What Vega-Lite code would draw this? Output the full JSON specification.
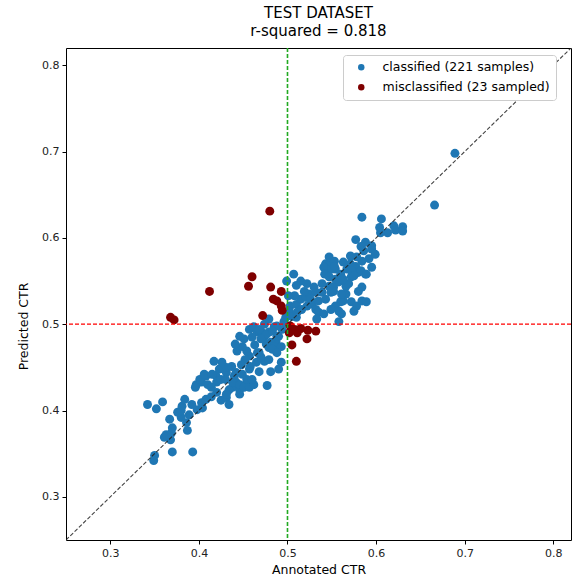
{
"$schema": "https://vega.github.io/schema/vega-lite/v6.json",
"width": 505, "height": 492,
"autosize": {"type": "none"},
"padding": {"left": 66, "top": 48, "right": 2, "bottom": 39},
"background": "white",
"title": {"text": ["TEST DATASET", "r-squared = 0.818"], "font": "DejaVu Sans", "fontSize": 15, "fontWeight": "normal", "color": "#000", "anchor": "middle", "offset": 8, "lineHeight": 18},
"config": {
  "view": {"stroke": "#000", "strokeWidth": 1},
  "axis": {"grid": false, "domain": false, "ticks": true, "tickColor": "#000", "tickSize": 4, "labelFont": "DejaVu Sans", "labelFontSize": 11, "labelColor": "#222", "titleFont": "DejaVu Sans", "titleFontSize": 12.5, "titleFontWeight": "normal", "titleColor": "#000", "labelPadding": 3}
},
"datasets": {
  "pts": [
{"a":0.342,"p":0.407,"g":"c"},{"a":0.352,"p":0.402,"g":"c"},{"a":0.359,"p":0.410,"g":"c"},{"a":0.350,"p":0.348,"g":"c"},{"a":0.349,"p":0.342,"g":"c"},
{"a":0.370,"p":0.352,"g":"c"},{"a":0.393,"p":0.352,"g":"c"},{"a":0.361,"p":0.369,"g":"c"},{"a":0.368,"p":0.366,"g":"c"},{"a":0.363,"p":0.372,"g":"c"},
{"a":0.369,"p":0.374,"g":"c"},{"a":0.370,"p":0.380,"g":"c"},{"a":0.367,"p":0.390,"g":"c"},{"a":0.387,"p":0.377,"g":"c"},{"a":0.386,"p":0.386,"g":"c"},
{"a":0.380,"p":0.392,"g":"c"},{"a":0.376,"p":0.398,"g":"c"},{"a":0.380,"p":0.400,"g":"c"},{"a":0.381,"p":0.405,"g":"c"},{"a":0.392,"p":0.407,"g":"c"},
{"a":0.398,"p":0.401,"g":"c"},{"a":0.404,"p":0.403,"g":"c"},{"a":0.403,"p":0.409,"g":"c"},{"a":0.408,"p":0.413,"g":"c"},{"a":0.414,"p":0.416,"g":"c"},
{"a":0.420,"p":0.421,"g":"c"},{"a":0.425,"p":0.412,"g":"c"},{"a":0.431,"p":0.415,"g":"c"},{"a":0.434,"p":0.407,"g":"c"},{"a":0.397,"p":0.430,"g":"c"},
{"a":0.403,"p":0.433,"g":"c"},{"a":0.408,"p":0.440,"g":"c"},{"a":0.419,"p":0.441,"g":"c"},{"a":0.431,"p":0.444,"g":"c"},{"a":0.440,"p":0.440,"g":"c"},
{"a":0.442,"p":0.433,"g":"c"},{"a":0.438,"p":0.427,"g":"c"},{"a":0.446,"p":0.424,"g":"c"},{"a":0.453,"p":0.430,"g":"c"},{"a":0.396,"p":0.427,"g":"c"},
{"a":0.410,"p":0.430,"g":"c"},{"a":0.420,"p":0.433,"g":"c"},{"a":0.425,"p":0.436,"g":"c"},{"a":0.401,"p":0.436,"g":"c"},{"a":0.406,"p":0.442,"g":"c"},
{"a":0.415,"p":0.442,"g":"c"},{"a":0.423,"p":0.448,"g":"c"},{"a":0.431,"p":0.450,"g":"c"},{"a":0.426,"p":0.456,"g":"c"},{"a":0.417,"p":0.457,"g":"c"},
{"a":0.434,"p":0.424,"g":"c"},{"a":0.431,"p":0.419,"g":"c"},{"a":0.446,"p":0.419,"g":"c"},{"a":0.438,"p":0.433,"g":"c"},{"a":0.446,"p":0.430,"g":"c"},
{"a":0.451,"p":0.427,"g":"c"},{"a":0.457,"p":0.427,"g":"c"},{"a":0.462,"p":0.430,"g":"c"},{"a":0.454,"p":0.436,"g":"c"},{"a":0.460,"p":0.436,"g":"c"},
{"a":0.449,"p":0.442,"g":"c"},{"a":0.442,"p":0.444,"g":"c"},{"a":0.457,"p":0.448,"g":"c"},{"a":0.468,"p":0.445,"g":"c"},{"a":0.458,"p":0.451,"g":"c"},
{"a":0.465,"p":0.456,"g":"c"},{"a":0.474,"p":0.457,"g":"c"},{"a":0.470,"p":0.462,"g":"c"},{"a":0.466,"p":0.467,"g":"c"},{"a":0.457,"p":0.463,"g":"c"},
{"a":0.454,"p":0.469,"g":"c"},{"a":0.443,"p":0.469,"g":"c"},{"a":0.449,"p":0.474,"g":"c"},{"a":0.451,"p":0.483,"g":"c"},{"a":0.446,"p":0.486,"g":"c"},
{"a":0.457,"p":0.494,"g":"c"},{"a":0.462,"p":0.497,"g":"c"},{"a":0.466,"p":0.491,"g":"c"},{"a":0.470,"p":0.492,"g":"c"},{"a":0.474,"p":0.486,"g":"c"},
{"a":0.479,"p":0.491,"g":"c"},{"a":0.485,"p":0.497,"g":"c"},{"a":0.488,"p":0.498,"g":"c"},{"a":0.494,"p":0.494,"g":"c"},{"a":0.490,"p":0.486,"g":"c"},
{"a":0.487,"p":0.480,"g":"c"},{"a":0.481,"p":0.479,"g":"c"},{"a":0.479,"p":0.473,"g":"c"},{"a":0.485,"p":0.474,"g":"c"},{"a":0.493,"p":0.474,"g":"c"},
{"a":0.479,"p":0.459,"g":"c"},{"a":0.481,"p":0.445,"g":"c"},{"a":0.490,"p":0.448,"g":"c"},{"a":0.493,"p":0.456,"g":"c"},{"a":0.477,"p":0.429,"g":"c"},
{"a":0.468,"p":0.494,"g":"c"},{"a":0.476,"p":0.488,"g":"c"},{"a":0.483,"p":0.492,"g":"c"},{"a":0.488,"p":0.486,"g":"c"},{"a":0.476,"p":0.477,"g":"c"},
{"a":0.483,"p":0.471,"g":"c"},{"a":0.488,"p":0.467,"g":"c"},{"a":0.468,"p":0.467,"g":"c"},{"a":0.441,"p":0.477,"g":"c"},{"a":0.460,"p":0.485,"g":"c"},
{"a":0.503,"p":0.521,"g":"c"},{"a":0.502,"p":0.515,"g":"c"},{"a":0.505,"p":0.509,"g":"c"},{"a":0.510,"p":0.523,"g":"c"},{"a":0.511,"p":0.514,"g":"c"},
{"a":0.510,"p":0.508,"g":"c"},{"a":0.516,"p":0.517,"g":"c"},{"a":0.515,"p":0.529,"g":"c"},{"a":0.521,"p":0.531,"g":"c"},{"a":0.522,"p":0.521,"g":"c"},
{"a":0.528,"p":0.523,"g":"c"},{"a":0.524,"p":0.535,"g":"c"},{"a":0.532,"p":0.537,"g":"c"},{"a":0.532,"p":0.517,"g":"c"},{"a":0.535,"p":0.514,"g":"c"},
{"a":0.541,"p":0.512,"g":"c"},{"a":0.533,"p":0.506,"g":"c"},{"a":0.539,"p":0.537,"g":"c"},{"a":0.549,"p":0.537,"g":"c"},{"a":0.552,"p":0.543,"g":"c"},
{"a":0.558,"p":0.549,"g":"c"},{"a":0.566,"p":0.544,"g":"c"},{"a":0.566,"p":0.535,"g":"c"},{"a":0.563,"p":0.527,"g":"c"},{"a":0.560,"p":0.526,"g":"c"},
{"a":0.554,"p":0.521,"g":"c"},{"a":0.549,"p":0.517,"g":"c"},{"a":0.558,"p":0.515,"g":"c"},{"a":0.561,"p":0.512,"g":"c"},{"a":0.558,"p":0.503,"g":"c"},
{"a":0.572,"p":0.526,"g":"c"},{"a":0.578,"p":0.521,"g":"c"},{"a":0.584,"p":0.527,"g":"c"},{"a":0.589,"p":0.526,"g":"c"},{"a":0.575,"p":0.515,"g":"c"},
{"a":0.584,"p":0.543,"g":"c"},{"a":0.580,"p":0.538,"g":"c"},{"a":0.561,"p":0.535,"g":"c"},{"a":0.552,"p":0.538,"g":"c"},{"a":0.547,"p":0.544,"g":"c"},
{"a":0.507,"p":0.558,"g":"c"},{"a":0.515,"p":0.550,"g":"c"},{"a":0.499,"p":0.550,"g":"c"},{"a":0.522,"p":0.547,"g":"c"},{"a":0.530,"p":0.543,"g":"c"},
{"a":0.539,"p":0.547,"g":"c"},{"a":0.544,"p":0.560,"g":"c"},{"a":0.543,"p":0.570,"g":"c"},{"a":0.549,"p":0.572,"g":"c"},{"a":0.554,"p":0.564,"g":"c"},
{"a":0.560,"p":0.558,"g":"c"},{"a":0.567,"p":0.564,"g":"c"},{"a":0.572,"p":0.566,"g":"c"},{"a":0.572,"p":0.555,"g":"c"},{"a":0.580,"p":0.560,"g":"c"},
{"a":0.588,"p":0.558,"g":"c"},{"a":0.547,"p":0.578,"g":"c"},{"a":0.553,"p":0.573,"g":"c"},{"a":0.541,"p":0.566,"g":"c"},{"a":0.550,"p":0.564,"g":"c"},
{"a":0.542,"p":0.558,"g":"c"},{"a":0.547,"p":0.555,"g":"c"},{"a":0.554,"p":0.552,"g":"c"},{"a":0.510,"p":0.545,"g":"c"},{"a":0.508,"p":0.533,"g":"c"},
{"a":0.501,"p":0.533,"g":"c"},{"a":0.553,"p":0.567,"g":"c"},{"a":0.563,"p":0.572,"g":"c"},{"a":0.571,"p":0.579,"g":"c"},{"a":0.584,"p":0.573,"g":"c"},
{"a":0.571,"p":0.570,"g":"c"},{"a":0.577,"p":0.567,"g":"c"},{"a":0.595,"p":0.566,"g":"c"},{"a":0.583,"p":0.562,"g":"c"},{"a":0.572,"p":0.562,"g":"c"},
{"a":0.575,"p":0.556,"g":"c"},{"a":0.589,"p":0.558,"g":"c"},{"a":0.578,"p":0.578,"g":"c"},{"a":0.577,"p":0.598,"g":"c"},{"a":0.583,"p":0.590,"g":"c"},
{"a":0.586,"p":0.585,"g":"c"},{"a":0.595,"p":0.591,"g":"c"},{"a":0.595,"p":0.587,"g":"c"},{"a":0.584,"p":0.624,"g":"c"},{"a":0.606,"p":0.622,"g":"c"},
{"a":0.620,"p":0.614,"g":"c"},{"a":0.622,"p":0.609,"g":"c"},{"a":0.613,"p":0.606,"g":"c"},{"a":0.605,"p":0.606,"g":"c"},{"a":0.666,"p":0.638,"g":"c"},
{"a":0.689,"p":0.698,"g":"c"},{"a":0.630,"p":0.613,"g":"c"},{"a":0.630,"p":0.608,"g":"c"},{"a":0.604,"p":0.612,"g":"c"},{"a":0.496,"p":0.503,"g":"c"},
{"a":0.498,"p":0.508,"g":"c"},{"a":0.474,"p":0.500,"g":"c"},{"a":0.479,"p":0.506,"g":"c"},{"a":0.470,"p":0.483,"g":"c"},{"a":0.463,"p":0.476,"g":"c"},
{"a":0.452,"p":0.459,"g":"c"},{"a":0.448,"p":0.453,"g":"c"},{"a":0.437,"p":0.451,"g":"c"},{"a":0.430,"p":0.436,"g":"c"},{"a":0.414,"p":0.427,"g":"c"},
{"a":0.389,"p":0.395,"g":"c"},{"a":0.384,"p":0.413,"g":"c"},{"a":0.519,"p":0.538,"g":"c"},{"a":0.526,"p":0.529,"g":"c"},{"a":0.535,"p":0.527,"g":"c"},
{"a":0.543,"p":0.529,"g":"c"},{"a":0.569,"p":0.547,"g":"c"},{"a":0.563,"p":0.552,"g":"c"},{"a":0.592,"p":0.576,"g":"c"},{"a":0.599,"p":0.581,"g":"c"},
{"a":0.588,"p":0.595,"g":"c"},
{"a":0.480,"p":0.631,"g":"m"},{"a":0.368,"p":0.508,"g":"m"},{"a":0.372,"p":0.505,"g":"m"},{"a":0.412,"p":0.538,"g":"m"},{"a":0.460,"p":0.555,"g":"m"},
{"a":0.456,"p":0.544,"g":"m"},{"a":0.481,"p":0.543,"g":"m"},{"a":0.493,"p":0.538,"g":"m"},{"a":0.484,"p":0.529,"g":"m"},{"a":0.488,"p":0.527,"g":"m"},
{"a":0.493,"p":0.521,"g":"m"},{"a":0.494,"p":0.516,"g":"m"},{"a":0.472,"p":0.510,"g":"m"},{"a":0.503,"p":0.498,"g":"m"},{"a":0.508,"p":0.494,"g":"m"},
{"a":0.515,"p":0.495,"g":"m"},{"a":0.502,"p":0.490,"g":"m"},{"a":0.511,"p":0.490,"g":"m"},{"a":0.523,"p":0.493,"g":"m"},{"a":0.532,"p":0.492,"g":"m"},
{"a":0.522,"p":0.483,"g":"m"},{"a":0.505,"p":0.476,"g":"m"},{"a":0.510,"p":0.457,"g":"m"}
  ]
},
"layer": [
  {
    "data": {"name": "pts"},
    "mark": {"type": "circle", "size": 80, "opacity": 1},
    "encoding": {
      "x": {"field": "a", "type": "quantitative", "scale": {"domain": [0.25, 0.82], "nice": false, "zero": false},
            "axis": {"values": [0.3, 0.4, 0.5, 0.6, 0.7, 0.8], "format": ".1f", "title": "Annotated CTR", "titlePadding": 5}},
      "y": {"field": "p", "type": "quantitative", "scale": {"domain": [0.25, 0.82], "nice": false, "zero": false},
            "axis": {"values": [0.3, 0.4, 0.5, 0.6, 0.7, 0.8], "format": ".1f", "title": "Predicted CTR", "titleX": -43, "titleY": 278, "titleAlign": "center", "titleBaseline": "middle", "titleAngle": -90}},
      "color": {"field": "g", "type": "nominal",
                "scale": {"domain": ["c", "m"], "range": ["#1f77b4", "#7f0000"]},
                "legend": {"title": null, "orient": "none", "legendX": 277, "legendY": 7,
                           "labelExpr": "datum.value == 'c' ? 'classified (221 samples)' : 'misclassified (23 sampled)'",
                           "labelFont": "DejaVu Sans", "labelFontSize": 12.5, "labelColor": "#000", "labelLimit": 300,
                           "symbolType": "circle", "symbolSize": 42, "symbolOpacity": 1, "symbolStrokeWidth": 0,
                           "padding": 6, "symbolOffset": 6, "labelOffset": 15, "rowPadding": 7,
                           "strokeColor": "#cccccc", "fillColor": "white", "cornerRadius": 3}}
    }
  },
  {
    "data": {"values": [{"x1": 0.25, "y1": 0.25, "x2": 0.82, "y2": 0.82}]},
    "mark": {"type": "rule", "color": "#222", "stroke": "#222", "opacity": 0.85, "strokeWidth": 1.1, "strokeDash": [4, 2], "clip": true},
    "encoding": {
      "x": {"field": "x1", "type": "quantitative"},
      "y": {"field": "y1", "type": "quantitative"},
      "x2": {"field": "x2"},
      "y2": {"field": "y2"}
    }
  },
  {
    "data": {"values": [{"v": 0.5}]},
    "mark": {"type": "rule", "color": "#ff0000", "stroke": "#ff0000", "strokeWidth": 1.2, "strokeDash": [4, 2]},
    "encoding": {"y": {"field": "v", "type": "quantitative"}}
  },
  {
    "data": {"values": [{"w": 0.5}]},
    "mark": {"type": "rule", "color": "#22aa22", "stroke": "#22aa22", "strokeWidth": 1.6, "strokeDash": [4, 2]},
    "encoding": {"x": {"field": "w", "type": "quantitative"}}
  }
]
}
